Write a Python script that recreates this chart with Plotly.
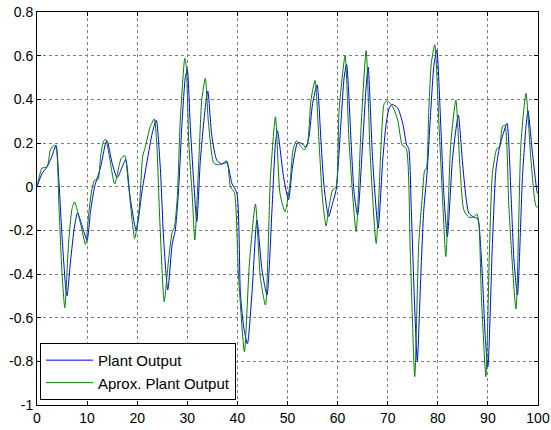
import plotly.graph_objects as go

# Plant Output (blue)
t_plant = [0, 1, 2, 3, 3.8, 4.4, 5, 5.8, 6.0, 6.7, 7.5, 8.1, 9, 10, 10.7, 11.5, 12.7, 13.7, 14,
           15, 16, 17, 17.7, 18.6, 19.8, 21, 22, 23, 23.8, 24.6, 25.3, 26.1, 27, 27.6, 28.3, 28.9,
           29.6, 30, 30.6, 31.3, 31.9, 32.6, 33.6, 34.1, 34.9, 35.9, 36.9, 37.9, 38.9, 39.9, 40.6,
           41.3, 42, 42.9, 43.9, 44.9, 45.9, 46.9, 47.6, 48, 49.2, 50.2, 51, 52, 52.7, 53.7, 54.3,
           55, 55.9, 56.7, 57.3, 58.2, 59, 59.7, 60.7, 61.3, 61.8, 62.7, 63.3, 64, 65, 65.7, 66.1,
           67, 68.1, 69, 69.7, 70.3, 70.9, 72, 73, 73.8, 74.2, 74.7, 75.3, 75.9, 76.6, 77.2, 77.9,
           78.6, 79.2, 79.8, 80.6, 81.2, 81.9, 82.9, 83.6, 84.1, 84.9, 85.6, 86.2, 87.2, 87.9, 88.2,
           88.9, 89.5, 90, 90.9, 91.6, 92.2, 92.9, 93.8, 94.6, 95.2, 95.9, 96.9, 97.6, 98, 98.9,
           99.9, 100]
y_plant = [0.0, 0.06, 0.09, 0.14, 0.19, 0.015, -0.23, -0.48, -0.5, -0.34, -0.18, -0.12, -0.18,
           -0.245, -0.11, 0.0, 0.09, 0.2, 0.21, 0.107, 0.04, 0.09, 0.125, -0.05, -0.2, -0.015, 0.12,
           0.245, 0.305, 0.09, -0.25, -0.473, -0.26, -0.2, 0.0, 0.275, 0.5, 0.537, 0.275, 0.015,
           -0.16, 0.12, 0.366, 0.438, 0.23, 0.12, 0.104, 0.11, 0.015, -0.03, -0.49, -0.65, -0.72,
           -0.49, -0.153, -0.38, -0.496, -0.107, 0.2, 0.256, 0.046, -0.06, 0.09, 0.2, 0.2, 0.18,
           0.23, 0.38, 0.466, 0.2, 0.0, -0.137, -0.076, -0.015, 0.305, 0.5, 0.56, 0.2, -0.03, -0.13,
           0.2, 0.46, 0.547, 0.12, -0.19, 0.12, 0.29, 0.36, 0.377, 0.36, 0.29, 0.19, 0.175, -0.1,
           -0.5, -0.8, -0.41, -0.107, 0.076, 0.35, 0.55, 0.626, 0.275, -0.03, -0.23, 0.12, 0.26,
           0.328, 0.12, -0.046, -0.122, -0.14, -0.145, -0.168, -0.41, -0.7, -0.824, -0.26, 0.076,
           0.168, 0.23, 0.29, -0.03, -0.336, -0.496, 0.046, 0.275, 0.348, 0.153, -0.03, -0.03]

# Aprox. Plant Output (green)
t_aprox = [0, 0.5, 1, 2, 2.7, 3.5, 3.9, 4.4, 5, 5.55, 6.3, 7, 7.5, 8.7, 9.7, 10.3, 10.9, 11.5,
           12.2, 12.7, 13.3, 13.7, 14.5, 15.5, 16.8, 17.5, 18.3, 19.5, 20.4, 21.1, 21.6, 22.6, 23.4,
           23.9, 24.5, 25.4, 26.2, 27, 27.4, 28, 28.6, 29.5, 29.8, 30.3, 31, 31.5, 32.3, 32.9, 33.6,
           34.2, 35.3, 36.2, 37, 37.9, 38.6, 39.4, 40.2, 41.4, 42.4, 43.6, 44.6, 45.6, 46.6, 47.6,
           48.5, 49.5, 50.5, 51.1, 51.8, 52.7, 53.3, 54, 54.7, 55.5, 56.3, 57, 57.7, 58.3, 59, 59.7,
           60.3, 61.5, 62.3, 63.7, 64.7, 65.7, 66.5, 67.7, 68.7, 69.3, 69.9, 71, 72, 72.9, 73.7,
           74.5, 75.4, 76.2, 76.9, 77.4, 77.7, 78.2, 78.7, 79.4, 80.2, 80.9, 81.6, 82.6, 83.6, 84.4,
           85.2, 86.2, 87.2, 87.8, 88.2, 88.7, 89.6, 90.3, 90.9, 91.8, 92.3, 92.9, 93.4, 94.2, 95.6,
           96.6, 97.6, 98.6, 99.6, 100]
y_aprox = [0.0, 0.05, 0.085, 0.09, 0.17, 0.19, 0.17, -0.1, -0.4, -0.555, -0.26, -0.1, -0.07,
           -0.17, -0.265, -0.13, -0.02, 0.03, 0.033, 0.14, 0.21, 0.217, 0.13, 0.012, 0.13, 0.142,
           0.0, -0.237, -0.1, 0.14, 0.18, 0.275, 0.31, 0.2, -0.15, -0.527, -0.35, -0.206, -0.19,
           -0.05, 0.305, 0.588, 0.55, 0.2, -0.046, -0.244, 0.12, 0.4, 0.496, 0.3, 0.107, 0.1, 0.105,
           0.118, 0.0, -0.027, -0.4, -0.756, -0.35, -0.08, -0.42, -0.542, 0.046, 0.32, -0.03, -0.115,
           0.015, 0.168, 0.21, 0.183, 0.168, 0.2, 0.4, 0.486, 0.2, -0.06, -0.18, -0.09, -0.015, 0.0,
           0.35, 0.6, 0.2, -0.206, 0.28, 0.623, 0.15, -0.26, 0.2, 0.38, 0.394, 0.366, 0.305, 0.19,
           0.175, -0.3, -0.87, -0.26, -0.046, 0.076, 0.08, 0.35, 0.565, 0.65, 0.3, -0.03, -0.32, 0.2,
           0.397, 0.1, -0.107, -0.14, -0.138, -0.125, -0.168, -0.5, -0.87, -0.3, 0.06, 0.175, 0.18,
           0.275, 0.282, -0.1, -0.56, 0.2, 0.427, 0.12, -0.09, -0.095]

x_ticks = [0, 10, 20, 30, 40, 50, 60, 70, 80, 90, 100]
x_tick_labels = ["0", "10", "20", "30", "40", "50", "60", "70", "80", "90", "100"]
y_ticks = [-1, -0.8, -0.6, -0.4, -0.2, 0, 0.2, 0.4, 0.6, 0.8]
y_tick_labels = ["-1", "-0.8", "-0.6", "-0.4", "-0.2", "0", "0.2", "0.4", "0.6", "0.8"]

fig = go.Figure()
fig.add_trace(go.Scatter(x=t_plant, y=y_plant, mode="lines", name="Plant Output",
                         line=dict(color="#0000FF", width=1, shape="spline", smoothing=0.6)))
fig.add_trace(go.Scatter(x=t_aprox, y=y_aprox, mode="lines", name="Aprox. Plant Output",
                         line=dict(color="#008000", width=1, shape="spline", smoothing=0.6)))

axis_common = dict(showline=True, linecolor="black", linewidth=1, mirror="ticks",
                   ticks="inside", ticklen=4, tickcolor="black", automargin=False,
                   showgrid=True, gridcolor="#7f7f7f", gridwidth=1, griddash="dot",
                   zeroline=False, tickfont=dict(family="Liberation Sans, Arial", size=14, color="black"))

fig.update_xaxes(range=[0, 100], tickvals=x_ticks, ticktext=x_tick_labels, **axis_common)
fig.update_yaxes(range=[-1, 0.8], tickvals=y_ticks, ticktext=y_tick_labels, **axis_common)

fig.update_layout(
    width=551, height=430,
    margin=dict(l=37, r=13, t=12, b=25),
    paper_bgcolor="white", plot_bgcolor="white",
    showlegend=True,
    legend=dict(x=0.006, y=0.013, xanchor="left", yanchor="bottom",
                bgcolor="white", bordercolor="black", borderwidth=1,
                itemwidth=47,
                font=dict(family="Liberation Sans, Arial", size=15, color="black"),
                tracegroupgap=0),
)

# remove the default 8px page margin so the 551x430 figure fills the window exactly
fig.write_html("out.html",
               config={"displayModeBar": False},
               post_script="document.body.style.margin='0';document.body.style.overflow='hidden';")
